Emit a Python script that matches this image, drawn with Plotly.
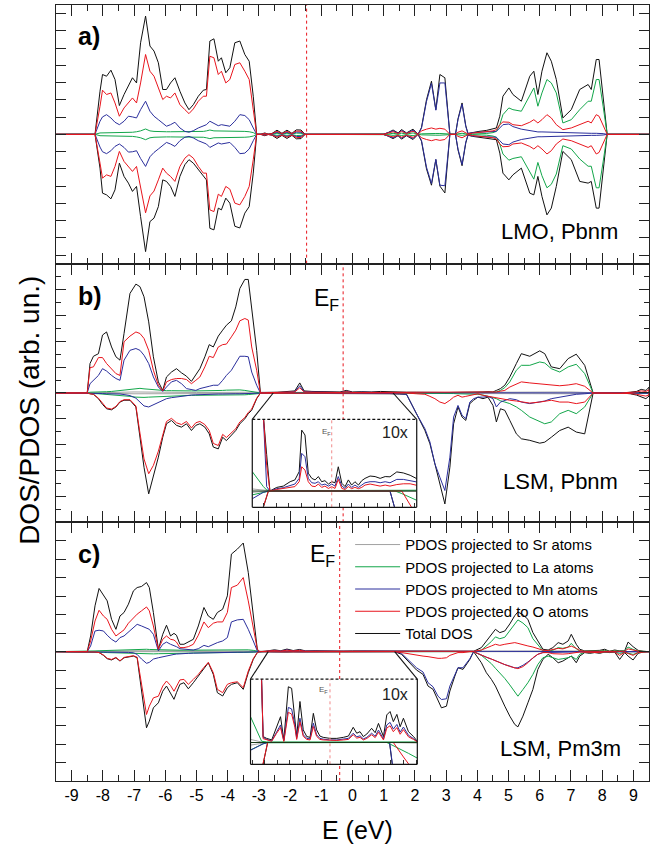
import plotly.graph_objects as go

# ------------------------------------------------------------------ data
EF_A, EF_B, EF_C = -1.47, -0.30, -0.41          # Fermi levels (eV)
X_TICKS = [-9, -8, -7, -6, -5, -4, -3, -2, -1, 0, 1, 2, 3, 4, 5, 6, 7, 8, 9]
X_TICK_LABELS = ["-9", "-8", "-7", "-6", "-5", "-4", "-3", "-2", "-1", "0",
                 "1", "2", "3", "4", "5", "6", "7", "8", "9"]
ZOOM_B = [-2.54, 1.30]     # energy window magnified in inset b
ZOOM_C = [-2.70, 1.35]     # energy window magnified in inset c

# ---------------- panel a) LMO, Pbnm
A_VB_X = [-8.25, -8.09, -8.01, -7.88, -7.74, -7.61, -7.47, -7.32, -7.18, -7.05, -6.92, -6.79, -6.63,
          -6.49, -6.36, -6.22, -6.08, -5.96, -5.83, -5.69, -5.53, -5.37, -5.24, -5.10, -4.94, -4.78,
          -4.68, -4.57, -4.44, -4.30, -4.20, -4.06, -3.93, -3.77, -3.61, -3.45, -3.31, -3.18, -3.07]
A_VB_TOT_UP = [0, 2.5, 3.47, 3.37, 3.72, 3.18, 1.67, 2.31, 2.79, 3.28, 2.98, 5.31, 6.86, 5.12, 4.83, 4.15,
               2.60, 2.60, 2.98, 3.28, 2.50, 1.82, 1.43, 1.72, 2.21, 2.56, 2.60, 5.41, 5.54, 4.24, 4.44,
               3.57, 3.86, 5.31, 5.41, 4.63, 4.24, 2.21, 0]
A_VB_O_UP = [0, 1.63, 2.56, 2.31, 2.40, 1.82, 1.05, 1.53, 1.82, 2.11, 1.82, 2.98, 4.63, 3.66, 3.37, 2.71,
             2.02, 2.21, 2.11, 2.40, 1.72, 1.43, 1.20, 1.47, 1.92, 2.21, 2.21, 4.53, 4.44, 3.47, 3.66,
             2.98, 3.18, 4.05, 4.15, 3.66, 3.18, 1.43, 0]
A_VB_MN_UP = [0, 0.76, 1.01, 1.14, 0.95, 0.70, 0.56, 0.76, 1.05, 1.01, 0.95, 1.43, 1.92, 1.34, 1.05, 0.85,
              0.66, 0.47, 0.56, 0.70, 0.37, 0.17, 0.12, 0.21, 0.37, 0.47, 0.56, 0.76, 0.62, 0.50, 0.56,
              0.50, 0.47, 0.76, 1.14, 1.09, 0.85, 0.37, 0]
A_VB_LA_UP = [0, 0.08, 0.08, 0.08, 0.08, 0.08, 0.08, 0.10, 0.10, 0.12, 0.15, 0.20, 0.31, 0.20, 0.17, 0.15,
              0.15, 0.15, 0.15, 0.15, 0.15, 0.17, 0.17, 0.17, 0.17, 0.17, 0.20, 0.25, 0.20, 0.20, 0.20,
              0.20, 0.20, 0.20, 0.20, 0.17, 0.15, 0.10, 0]
A_VB_TOT_DN = [0, -1.96, -3.41, -3.51, -3.74, -3.22, -1.67, -2.44, -2.83, -3.31, -3.02, -4.77, -6.80, -5.06,
               -4.86, -4.19, -2.64, -2.73, -3.02, -3.60, -2.44, -1.76, -1.47, -1.67, -2.05, -2.44, -2.64,
               -5.45, -5.54, -4.28, -4.38, -3.70, -3.99, -5.33, -5.43, -4.57, -4.19, -2.25, 0]
A_VB_O_DN = [0, -1.67, -2.54, -2.35, -2.44, -1.86, -0.99, -1.57, -1.86, -2.15, -1.86, -3.02, -4.55, -3.57,
             -3.29, -2.64, -1.96, -2.25, -2.44, -2.73, -1.86, -1.38, -1.18, -1.38, -1.86, -2.25, -2.25,
             -4.38, -4.48, -3.47, -3.60, -3.02, -3.18, -3.99, -4.09, -3.60, -3.02, -1.47, 0]
A_VB_MN_DN = [0, -0.74, -1.01, -1.12, -0.95, -0.70, -0.56, -0.76, -1.03, -1.01, -0.95, -1.40, -1.86, -1.30,
              -1.05, -0.85, -0.66, -0.47, -0.56, -0.70, -0.37, -0.17, -0.12, -0.21, -0.37, -0.47, -0.56,
              -0.76, -0.62, -0.50, -0.56, -0.50, -0.47, -0.76, -1.12, -1.09, -0.85, -0.37, 0]
A_VB_LA_DN = [0, -0.08, -0.08, -0.08, -0.08, -0.08, -0.08, -0.10, -0.10, -0.12, -0.15, -0.20, -0.31, -0.20,
              -0.17, -0.15, -0.15, -0.15, -0.15, -0.15, -0.15, -0.17, -0.17, -0.17, -0.17, -0.17, -0.20,
              -0.25, -0.20, -0.20, -0.20, -0.20, -0.20, -0.20, -0.20, -0.17, -0.15, -0.10, 0]

A_G1_X = [-2.95, -2.81, -2.70, -2.58, -2.42, -2.26, -2.10, -1.94, -1.80, -1.65, -1.53, -1.45]
A_G1_TOT_UP = [0, 0.08, 0.01, 0.05, 0.24, 0.06, 0.24, 0.06, 0.26, 0.25, 0.02, 0]
A_G1_O_UP = [0, 0.05, 0.01, 0.04, 0.17, 0.04, 0.17, 0.04, 0.19, 0.18, 0.01, 0]
A_G1_MN_UP = [0, 0.04, 0, 0.03, 0.12, 0.03, 0.12, 0.03, 0.13, 0.12, 0.01, 0]
A_G1_LA_UP = [0, 0.02, 0, 0.01, 0.06, 0.02, 0.06, 0.02, 0.07, 0.06, 0, 0]
A_G1_TOT_DN = [0, -0.08, -0.01, -0.05, -0.24, -0.06, -0.24, -0.06, -0.26, -0.25, -0.02, 0]
A_G1_O_DN = [0, -0.05, -0.01, -0.04, -0.17, -0.04, -0.17, -0.04, -0.19, -0.18, -0.01, 0]
A_G1_MN_DN = [0, -0.04, 0, -0.03, -0.12, -0.03, -0.12, -0.03, -0.13, -0.12, -0.01, 0]
A_G1_LA_DN = [0, -0.02, 0, -0.01, -0.06, -0.02, -0.06, -0.02, -0.07, -0.06, 0, 0]

A_G2_X = [0.98, 1.14, 1.30, 1.46, 1.57, 1.73, 1.94, 2.10]
A_G2_TOT_UP = [0, 0.10, 0.25, 0.08, 0.28, 0.08, 0.30, 0]
A_G2_O_UP = [0, 0.06, 0.15, 0.05, 0.17, 0.05, 0.18, 0]
A_G2_MN_UP = [0, 0.08, 0.20, 0.06, 0.22, 0.06, 0.24, 0]
A_G2_LA_UP = [0, 0.02, 0.06, 0.02, 0.07, 0.02, 0.08, 0]
A_G2_TOT_DN = [0, -0.10, -0.25, -0.08, -0.28, -0.08, -0.30, 0]
A_G2_O_DN = [0, -0.06, -0.15, -0.05, -0.17, -0.05, -0.18, 0]
A_G2_MN_DN = [0, -0.08, -0.20, -0.06, -0.22, -0.06, -0.24, 0]
A_G2_LA_DN = [0, -0.02, -0.06, -0.02, -0.07, -0.02, -0.08, 0]

A_MP_X = [2.10, 2.21, 2.37, 2.53, 2.67, 2.80, 2.96, 3.12]
A_MP_TOT_UP = [0, 0.4, 2.0, 3.08, 1.43, 3.47, 3.28, 0]
A_MP_MN_UP = [0, 0.35, 1.9, 2.95, 1.40, 2.98, 2.98, 0]
A_MP_O_UP = [0, 0.2, 0.3, 0.37, 0.3, 0.35, 0.3, 0]
A_MP_LA_UP = [0, 0.03, 0.05, 0.05, 0.05, 0.05, 0.04, 0]
A_MP_TOT_DN = [0, -0.4, -2.0, -2.95, -1.47, -3.0, -3.4, 0]
A_MP_MN_DN = [0, -0.35, -1.9, -2.85, -1.45, -2.95, -2.98, 0]
A_MP_O_DN = [0, -0.2, -0.3, -0.37, -0.3, -0.35, -0.3, 0]
A_MP_LA_DN = [0, -0.03, -0.05, -0.05, -0.05, -0.05, -0.04, 0]

A_CB_X = [3.30, 3.38, 3.51, 3.63, 3.70, 3.85, 4.05, 4.30, 4.50, 4.61, 4.72, 4.82, 5.01, 5.14, 5.41, 5.68,
          5.81, 5.94, 6.07, 6.23, 6.37, 6.53, 6.74, 7.01, 7.28, 7.55, 7.65, 7.81, 7.90, 8.03, 8.16]
A_CB_TOT_UP = [0, 0.9, 1.82, 0.5, 0.05, 0.12, 0.17, 0.23, 0.30, 0.37, 1.05, 2.21, 2.69, 2.31, 1.92, 3.37,
               3.66, 2.31, 3.66, 4.73, 4.24, 3.18, 0.95, 1.43, 2.60, 2.89, 2.60, 4.34, 4.34, 2.02, 0]
A_CB_LA_UP = [0, 0.03, 0.06, 0.03, 0, 0.02, 0.03, 0.05, 0.10, 0.17, 0.56, 1.14, 1.53, 1.43, 1.34, 2.21,
              2.69, 1.63, 2.40, 3.18, 2.98, 2.40, 0.66, 0.85, 1.43, 1.92, 1.92, 3.18, 3.18, 1.63, 0]
A_CB_O_UP = [0, 0.12, 0.2, 0.08, 0.02, 0.07, 0.1, 0.13, 0.2, 0.27, 0.56, 0.72, 0.70, 0.56, 0.50, 0.70,
             0.85, 0.66, 0.85, 1.14, 0.95, 0.56, 0.27, 0.37, 0.56, 0.76, 0.66, 1.14, 1.05, 0.56, 0]
A_CB_MN_UP = [0, 0.85, 1.75, 0.45, 0.04, 0.1, 0.12, 0.15, 0.17, 0.17, 0.37, 0.56, 0.60, 0.45, 0.30, 0.20,
              0.17, 0.14, 0.14, 0.13, 0.12, 0.12, 0.08, 0.08, 0.08, 0.06, 0.06, 0.06, 0.06, 0.04, 0]
A_CB_TOT_DN = [0, -0.9, -1.82, -0.5, -0.05, -0.12, -0.17, -0.23, -0.30, -0.31, -1.09, -2.25, -2.64, -2.35,
               -1.96, -3.41, -3.51, -2.44, -3.60, -4.67, -4.28, -3.02, -0.99, -1.47, -2.73, -2.83, -2.73,
               -4.28, -4.28, -1.96, 0]
A_CB_LA_DN = [0, -0.03, -0.06, -0.03, 0, -0.02, -0.03, -0.05, -0.10, -0.17, -0.56, -1.14, -1.50, -1.40,
              -1.30, -2.15, -2.60, -1.63, -2.40, -3.10, -2.90, -2.30, -0.66, -0.85, -1.43, -1.85, -1.85,
              -3.10, -3.10, -1.60, 0]
A_CB_O_DN = [0, -0.12, -0.2, -0.08, -0.02, -0.07, -0.1, -0.13, -0.2, -0.27, -0.56, -0.72, -0.70, -0.56,
             -0.50, -0.70, -0.85, -0.66, -0.85, -1.14, -0.95, -0.56, -0.27, -0.37, -0.56, -0.76, -0.66,
             -1.14, -1.05, -0.56, 0]
A_CB_MN_DN = [0, -0.85, -1.75, -0.45, -0.04, -0.1, -0.12, -0.15, -0.17, -0.17, -0.37, -0.56, -0.60, -0.45,
              -0.30, -0.20, -0.17, -0.14, -0.14, -0.13, -0.12, -0.12, -0.08, -0.08, -0.08, -0.06, -0.06,
              -0.06, -0.06, -0.04, 0]

# ---------------- panel b) LSM, Pbnm
B_VB_X = [-8.50, -8.41, -8.30, -8.14, -8.01, -7.88, -7.72, -7.58, -7.45, -7.32, -7.13, -6.94, -6.81, -6.68,
          -6.53, -6.38, -6.22, -6.08, -5.96, -5.80, -5.64, -5.48, -5.32, -5.16, -5.02, -4.89, -4.73, -4.59,
          -4.46, -4.30, -4.16, -4.04, -3.88, -3.74, -3.61, -3.45, -3.34, -3.23, -3.07, -2.95]
B_VB_TOT_UP = [0, 1.14, 1.42, 1.52, 2.24, 2.36, 1.78, 1.40, 1.27, 2.30, 3.85, 4.21, 4.11, 3.72, 2.75, 1.40,
               0.43, 0.10, 0.62, 0.81, 0.94, 0.78, 0.65, 0.45, 0.68, 0.94, 1.40, 1.87, 1.78, 2.20, 2.43,
               2.62, 2.79, 3.33, 4.04, 4.39, 4.39, 3.20, 1.65, 0]
B_VB_O_UP = [0, 0.98, 1.01, 1.37, 1.37, 1.14, 0.94, 0.75, 0.68, 1.98, 2.20, 2.36, 2.30, 2.11, 1.65, 0.88,
             0.30, 0.08, 0.43, 0.52, 0.56, 0.56, 0.52, 0.36, 0.49, 0.62, 1.01, 1.42, 1.37, 1.78, 1.87, 1.89,
             2.17, 2.43, 2.79, 2.88, 2.82, 1.78, 0.88, 0]
B_VB_MN_UP = [0, 0.36, 0.49, 0.68, 0.94, 0.85, 0.68, 0.56, 0.49, 1.27, 1.65, 1.72, 1.65, 1.46, 1.14, 0.62,
              0.23, 0.06, 0.23, 0.43, 0.49, 0.36, 0.17, 0.13, 0.10, 0.17, 0.23, 0.26, 0.30, 0.30, 0.49, 0.68,
              0.88, 1.14, 1.42, 1.42, 1.40, 0.81, 0.30, 0]
B_VB_LA_UP = [0, 0.03, 0.03, 0.04, 0.05, 0.05, 0.06, 0.08, 0.10, 0.12, 0.16, 0.18, 0.18, 0.16, 0.14, 0.12,
              0.10, 0.09, 0.09, 0.09, 0.08, 0.08, 0.08, 0.08, 0.08, 0.08, 0.08, 0.08, 0.09, 0.10, 0.10, 0.11,
              0.12, 0.12, 0.12, 0.10, 0.08, 0.06, 0.03, 0]
B_VB_TOT_DN = [0, -0.03, -0.05, -0.22, -0.44, -0.61, -0.65, -0.54, -0.35, -0.28, -0.28, -0.54, -1.71, -2.87,
               -3.90, -3.26, -2.48, -1.71, -1.19, -1.06, -1.25, -1.32, -1.19, -1.45, -1.25, -1.19, -1.32,
               -1.58, -2.09, -2.16, -1.71, -1.84, -1.65, -1.45, -1.19, -1.00, -0.80, -0.67, -0.22, 0]
B_VB_O_DN = [0, -0.03, -0.05, -0.20, -0.40, -0.58, -0.62, -0.52, -0.33, -0.26, -0.26, -0.50, -1.55, -2.55,
             -3.12, -2.80, -2.25, -1.60, -1.10, -0.98, -1.15, -1.22, -1.10, -1.35, -1.15, -1.10, -1.22, -1.45,
             -1.95, -2.03, -1.60, -1.72, -1.55, -1.38, -1.12, -0.95, -0.75, -0.62, -0.20, 0]
B_VB_MN_DN = [0, 0, 0, -0.01, -0.02, -0.03, -0.03, -0.03, -0.04, -0.06, -0.10, -0.20, -0.35, -0.50, -0.54,
              -0.45, -0.35, -0.28, -0.22, -0.18, -0.15, -0.12, -0.10, -0.08, -0.07, -0.06, -0.05, -0.05,
              -0.04, -0.04, -0.04, -0.03, -0.03, -0.03, -0.03, -0.02, -0.02, -0.02, -0.01, 0]
B_VB_LA_DN = [0, -0.02, -0.02, -0.03, -0.04, -0.05, -0.06, -0.07, -0.08, -0.10, -0.13, -0.16, -0.17, -0.17,
              -0.16, -0.15, -0.14, -0.13, -0.12, -0.11, -0.10, -0.10, -0.09, -0.09, -0.09, -0.09, -0.09,
              -0.09, -0.09, -0.09, -0.09, -0.09, -0.08, -0.08, -0.08, -0.07, -0.06, -0.05, -0.03, 0]

B_MID_X = [-2.8, -2.4, -2.0, -1.85, -1.69, -1.55, -1.3, -1.0, -0.7, -0.4, -0.2, 0.0, 0.3, 0.6, 0.9, 1.2, 1.5]
B_MID_TOT_UP = [0.02, 0.03, 0.05, 0.08, 0.39, 0.08, 0.06, 0.05, 0.06, 0.04, 0.10, 0.04, 0.05, 0.04, 0.06, 0.04, 0.03]
B_MID_O_UP = [0.01, 0.02, 0.03, 0.04, 0.20, 0.04, 0.03, 0.02, 0.03, 0.02, 0.05, 0.02, 0.02, 0.02, 0.03, 0.02, 0.02]
B_MID_MN_UP = [0.01, 0.02, 0.03, 0.05, 0.28, 0.05, 0.04, 0.03, 0.03, 0.02, 0.06, 0.02, 0.03, 0.02, 0.03, 0.02, 0.01]
B_MID_LA_UP = [0.01, 0.01, 0.01, 0.01, 0.01, 0.01, 0.01, 0.01, 0.01, 0.01, 0.01, 0.01, 0.01, 0.01, 0.01, 0.01, 0.01]
B_MID_TOT_DN = [-0.01, -0.01, -0.01, -0.01, -0.02, -0.01, -0.01, -0.01, -0.01, -0.01, -0.01, -0.01, -0.01, -0.01, -0.02, -0.03, -0.04]
B_MID_O_DN = [-0.01, -0.01, -0.01, -0.01, -0.01, -0.01, -0.01, -0.01, -0.01, -0.01, -0.01, -0.01, -0.01, -0.01, -0.01, -0.01, -0.01]
B_MID_MN_DN = [0, 0, 0, 0, -0.01, 0, 0, 0, 0, 0, 0, 0, 0, 0, -0.01, -0.02, -0.03]
B_MID_LA_DN = [0, 0, 0, 0, 0, 0, 0, 0, 0, 0, 0, 0, 0, 0, 0, 0, 0]

B_CB_X = [1.73, 2.05, 2.32, 2.48, 2.64, 2.80, 2.96, 3.12, 3.24, 3.38, 3.51, 3.63, 3.76, 3.88, 4.02, 4.18, 4.34,
          4.50, 4.61, 4.74, 4.88, 5.04, 5.25, 5.41, 5.68, 6.00, 6.16, 6.37, 6.64, 6.91, 7.17, 7.44, 7.71]
B_CB_TOT_DN = [-0.05, -0.80, -1.45, -1.96, -2.74, -3.51, -4.29, -2.87, -1.19, -0.54, -0.93, -1.06, -0.41, -0.28,
               -0.16, -0.22, -0.16, -0.48, -1.12, -0.61, -0.67, -1.06, -1.58, -1.77, -1.83, -1.94, -1.90, -1.71,
               -1.45, -1.32, -1.51, -1.58, 0]
B_CB_MN_DN = [-0.05, -0.80, -1.38, -1.89, -2.74, -3.26, -3.77, -2.48, -0.93, -0.48, -0.86, -0.99, -0.35, -0.22,
              -0.16, -0.16, -0.13, -0.22, -0.54, -0.35, -0.28, -0.22, -0.26, -0.35, -0.41, -0.35, -0.31, -0.22,
              -0.16, -0.09, -0.05, -0.03, 0]
B_CB_O_DN = [0, -0.03, -0.05, -0.13, -0.22, -0.35, -0.41, -0.28, -0.16, -0.09, -0.16, -0.13, -0.09, -0.05, -0.03,
             -0.09, -0.13, -0.16, -0.18, -0.22, -0.26, -0.28, -0.31, -0.35, -0.39, -0.35, -0.31, -0.28, -0.35,
             -0.35, -0.41, -0.35, 0]
B_CB_LA_DN = [0, 0, 0, -0.01, -0.01, -0.02, -0.02, -0.02, -0.02, -0.03, -0.03, -0.03, -0.03, -0.04, -0.05, -0.08,
              -0.12, -0.18, -0.22, -0.30, -0.35, -0.41, -0.54, -0.67, -0.93, -1.12, -1.19, -1.12, -0.80, -0.67,
              -0.80, -0.54, 0]
B_CB_TOT_UP = [0.03, 0.03, 0.02, 0.02, 0.02, 0.02, 0.02, 0.02, 0.02, 0.02, 0.02, 0.02, 0.03, 0.03, 0.03, 0.04,
               0.05, 0.04, 0.10, 0.17, 0.30, 0.62, 1.14, 1.52, 1.42, 1.63, 1.52, 1.01, 0.94, 1.33, 1.50, 1.07, 0]
B_CB_LA_UP = [0.01, 0.01, 0.01, 0.01, 0.01, 0.01, 0.01, 0.01, 0.01, 0.01, 0.01, 0.01, 0.01, 0.01, 0.01, 0.01,
              0.01, 0.02, 0.04, 0.10, 0.21, 0.43, 0.88, 1.07, 1.07, 1.20, 1.16, 0.94, 0.81, 1.01, 1.11, 0.75, 0]
B_CB_O_UP = [0.02, 0.02, 0.02, 0.02, 0.02, 0.02, 0.02, 0.02, 0.02, 0.02, 0.02, 0.02, 0.02, 0.02, 0.02, 0.02,
             0.02, 0.03, 0.04, 0.07, 0.10, 0.23, 0.36, 0.43, 0.39, 0.36, 0.34, 0.30, 0.28, 0.31, 0.36, 0.26, 0]
B_CB_MN_UP = [0.01, 0.01, 0.01, 0.01, 0.01, 0.01, 0.01, 0.01, 0.01, 0.01, 0.01, 0.01, 0.01, 0.01, 0.01, 0.01,
              0.01, 0.01, 0.01, 0.01, 0.01, 0.01, 0.01, 0.01, 0.01, 0.01, 0.01, 0.01, 0.01, 0.01, 0.01, 0.01, 0]

B_TL_X = [8.6, 8.9, 9.1, 9.25, 9.4, 9.5]
B_TL_TOT_UP = [0, 0.03, 0.06, 0.14, 0.10, 0.22]
B_TL_O_UP = [0, 0.02, 0.04, 0.08, 0.06, 0.12]
B_TL_TOT_DN = [0, -0.03, -0.08, -0.15, -0.22, -0.12]
B_TL_O_DN = [0, -0.02, -0.05, -0.09, -0.12, -0.07]

B_SR_X = [-8.5, -7.0, -5.0, -3.0, -1.0, 1.0, 3.0, 5.0, 7.0, 8.0]
B_SR_UP = [0, 0.04, 0.02, 0.03, 0.01, 0.01, 0.02, 0.04, 0.04, 0]
B_SR_DN = [0, -0.03, -0.02, -0.02, -0.01, -0.01, -0.02, -0.03, -0.03, 0]

# inset b (10x)
INB_X = [-3.45, -3.01, -2.88, -2.75, -2.48, -2.22, -1.95, -1.76, -1.59, -1.49, -1.36, -1.23, -1.09, -0.96,
         -0.83, -0.70, -0.57, -0.43, -0.30, -0.17, -0.04, 0.10, 0.23, 0.36, 0.49, 0.62, 0.76, 0.89, 1.02,
         1.22, 1.42, 1.62, 1.82, 2.01, 2.28, 2.54, 2.81, 3.07]
INB_TOT_UP = [12, 2.9, 1.41, 0, 0.14, 0.19, 0.36, 0.43, 0.75, 2.36, 2.17, 0.69, 0.49, 0.43, 0.56, 0.36, 0.40,
              0.27, 0.36, 0.32, 0.94, 0.30, 0.17, 0.43, 0.23, 0.36, 0.23, 0.40, 0.49, 0.58, 0.56, 0.49, 0.56,
              0.55, 0.74, 0.70, 0.61, 0.48]
INB_MN_UP = [12, 2.8, 0.17, 0, 0.09, 0.13, 0.23, 0.27, 0.49, 1.46, 1.33, 0.49, 0.32, 0.30, 0.36, 0.23, 0.27,
             0.19, 0.27, 0.19, 0.56, 0.19, 0.10, 0.27, 0.14, 0.23, 0.14, 0.23, 0.32, 0.36, 0.36, 0.32, 0.36,
             0.32, 0.45, 0.45, 0.40, 0.35]
INB_O_UP = [12, 2.9, 1.0, 0, 0.06, 0.09, 0.14, 0.17, 0.36, 0.94, 0.81, 0.36, 0.19, 0.17, 0.27, 0.14, 0.19,
            0.10, 0.17, 0.10, 0.45, 0.10, 0.06, 0.17, 0.09, 0.14, 0.09, 0.14, 0.23, 0.27, 0.23, 0.19, 0.23,
            0.19, 0.25, 0.28, 0.28, 0.22]
INB_SM_X = [-3.45, -3.20, -3.01, -2.88, -2.75, 0.0, 3.07]
INB_LA_UP = [0.75, 0.40, 0.17, 0.04, 0.02, 0.02, 0.03]
INB_SR_UP = [0.08, 0.05, 0.03, 0.01, 0.01, 0.01, 0.01]
INB_DN_X = [-3.45, -3.01, -2.81, 2.01, 2.21, 2.48, 2.87, 3.07]
INB_TOT_DN = [-5.0, -0.63, 0, 0, -0.70, -1.60, -3.5, -4.0]
INB_MN_DN = [-0.3, -0.05, 0, 0, -0.70, -1.50, -3.3, -3.8]
INB_O_DN = [-4.5, -0.60, 0, 0, 0, 0, -0.64, -1.0]
INB_LA_DN = [-0.15, -0.06, -0.01, 0, 0, -0.10, -0.27, -0.36]
INB_SR_DN = [-0.05, -0.02, 0, 0, 0, 0, -0.01, -0.01]

# ---------------- panel c) LSM, Pm3m
C_VB_X = [-8.50, -8.39, -8.25, -8.12, -7.98, -7.86, -7.72, -7.58, -7.45, -7.32, -7.18, -7.02, -6.90, -6.76,
          -6.60, -6.51, -6.38, -6.22, -6.08, -5.96, -5.83, -5.72, -5.64, -5.53, -5.40, -5.26, -5.10, -4.94,
          -4.76, -4.62, -4.46, -4.33, -4.16, -4.01, -3.88, -3.69, -3.50, -3.34, -3.18, -3.05, -2.97]
C_VB_TOT_UP = [0, 0.85, 2.48, 3.42, 3.02, 2.75, 1.75, 1.21, 1.93, 2.12, 2.57, 3.29, 3.47, 3.53, 3.74, 3.47,
               2.12, 0.13, 0.94, 1.43, 0.85, 0.99, 0.89, 0.40, 0.40, 0.52, 0.67, 1.39, 2.39, 1.93, 1.75, 2.12,
               2.30, 3.02, 5.28, 5.55, 5.88, 4.29, 1.93, 0.13, 0]
C_VB_O_UP = [0, 0.58, 1.66, 2.24, 1.93, 1.75, 1.21, 0.85, 1.03, 1.18, 1.54, 1.85, 2.03, 2.21, 2.42, 2.21, 1.39,
             0.13, 0.67, 0.85, 0.67, 0.63, 0.52, 0.22, 0.22, 0.27, 0.40, 0.89, 1.61, 1.30, 1.54, 1.61, 1.61,
             2.12, 3.47, 3.60, 4.01, 2.75, 1.21, 0.13, 0]
C_VB_MN_UP = [0, 0.31, 1.12, 1.16, 1.12, 0.89, 0.67, 0.52, 0.76, 0.85, 1.07, 1.30, 1.48, 1.39, 1.30, 1.21, 0.94,
              0.04, 0.40, 0.52, 0.40, 0.34, 0.27, 0.16, 0.13, 0.09, 0.09, 0.16, 0.34, 0.27, 0.40, 0.49, 0.58,
              0.76, 1.61, 1.72, 1.75, 1.21, 0.58, 0.04, 0]
C_VB_LA_UP = [0, 0.02, 0.04, 0.05, 0.06, 0.06, 0.07, 0.08, 0.08, 0.08, 0.09, 0.10, 0.11, 0.12, 0.13, 0.12, 0.11,
              0.10, 0.10, 0.10, 0.10, 0.10, 0.09, 0.08, 0.08, 0.08, 0.08, 0.09, 0.10, 0.10, 0.10, 0.10, 0.10,
              0.10, 0.12, 0.12, 0.12, 0.10, 0.07, 0.03, 0]
C_VB_TOT_DN = [0, -0.02, -0.02, -0.05, -0.20, -0.38, -0.45, -0.33, -0.51, -0.33, -0.27, -0.24, -0.33, -2.22,
               -4.12, -3.76, -3.04, -2.77, -2.14, -1.86, -2.22, -2.58, -2.22, -1.77, -1.68, -2.01, -1.68, -1.32,
               -0.87, -0.60, -1.23, -2.22, -2.40, -1.95, -1.77, -1.68, -2.04, -1.14, -0.42, -0.05, 0]
C_VB_O_DN = [0, -0.02, -0.02, -0.05, -0.18, -0.36, -0.42, -0.31, -0.49, -0.31, -0.25, -0.22, -0.30, -1.86, -3.40,
             -2.95, -2.50, -2.41, -1.86, -1.59, -1.83, -2.14, -1.86, -1.53, -1.50, -1.77, -1.50, -1.23, -0.85,
             -0.58, -1.14, -2.04, -2.22, -1.77, -1.68, -1.63, -1.95, -1.05, -0.38, -0.05, 0]
C_VB_MN_DN = [0, 0, 0, 0, -0.01, -0.01, -0.02, -0.02, -0.02, -0.03, -0.04, -0.06, -0.15, -0.40, -0.63, -0.58,
              -0.40, -0.33, -0.27, -0.22, -0.18, -0.15, -0.13, -0.11, -0.10, -0.09, -0.08, -0.07, -0.06, -0.05,
              -0.05, -0.04, -0.04, -0.04, -0.04, -0.03, -0.03, -0.02, -0.01, 0, 0]
C_VB_LA_DN = [0, -0.01, -0.02, -0.03, -0.04, -0.05, -0.06, -0.07, -0.08, -0.09, -0.10, -0.11, -0.12, -0.13,
              -0.14, -0.13, -0.12, -0.11, -0.10, -0.10, -0.09, -0.09, -0.09, -0.08, -0.08, -0.08, -0.07, -0.07,
              -0.07, -0.07, -0.07, -0.06, -0.06, -0.06, -0.06, -0.05, -0.05, -0.04, -0.03, -0.01, 0]

C_MID_X = [-2.8, -2.5, -2.3, -2.1, -1.9, -1.7, -1.5, -1.2, -0.9, -0.6, -0.3, 0.0, 0.4, 0.8, 1.1]
C_MID_TOT_UP = [0.02, 0.10, 0.05, 0.14, 0.06, 0.12, 0.04, 0.05, 0.03, 0.03, 0.03, 0.04, 0.04, 0.05, 0.06]
C_MID_O_UP = [0.01, 0.06, 0.03, 0.08, 0.04, 0.07, 0.02, 0.03, 0.02, 0.02, 0.02, 0.02, 0.02, 0.03, 0.03]
C_MID_MN_UP = [0.01, 0.07, 0.03, 0.10, 0.04, 0.08, 0.03, 0.03, 0.02, 0.02, 0.02, 0.02, 0.03, 0.03, 0.04]
C_MID_LA_UP = [0.01, 0.01, 0.01, 0.01, 0.01, 0.01, 0.01, 0.01, 0.01, 0.01, 0.01, 0.01, 0.01, 0.01, 0.01]
C_MID_TOT_DN = [-0.01, -0.02, -0.01, -0.02, -0.01, -0.02, -0.01, -0.01, -0.01, -0.01, -0.01, -0.01, -0.01, -0.01, -0.01]
C_MID_O_DN = [-0.01, -0.01, -0.01, -0.01, -0.01, -0.01, -0.01, -0.01, -0.01, -0.01, -0.01, -0.01, -0.01, -0.01, -0.01]
C_MID_MN_DN = [0, -0.01, 0, -0.01, 0, -0.01, 0, 0, 0, 0, 0, 0, 0, 0, 0]
C_MID_LA_DN = [0, 0, 0, 0, 0, 0, 0, 0, 0, 0, 0, 0, 0, 0, 0]

C_CB_X = [1.35, 1.57, 1.84, 2.05, 2.26, 2.42, 2.58, 2.74, 2.85, 3.01, 3.12, 3.28, 3.38, 3.54, 3.65, 3.76, 3.88,
          4.13, 4.29, 4.45, 4.58, 4.72, 4.88, 5.04, 5.20, 5.30, 5.46, 5.62, 5.78, 5.94, 6.10, 6.27, 6.42, 6.59,
          6.74, 6.91, 7.01, 7.17, 7.28, 7.44, 7.60, 7.76, 7.92, 8.08, 8.24, 8.40, 8.56, 8.72, 8.83, 8.99, 9.15,
          9.31, 9.47]
C_CB_TOT_UP = [0.02, 0.02, 0.02, 0.02, 0.02, 0.02, 0.02, 0.02, 0.02, 0.02, 0.02, 0.02, 0.02, 0.02, 0.02, 0.02, 0.02,
               0.22, 0.58, 0.94, 1.21, 1.03, 1.12, 1.50, 1.95, 2.15, 2.00, 1.75, 1.03, 0.58, 0.13, 0.09, 0.22,
               0.49, 0.40, 0.58, 0.94, 0.40, 0.13, 0.04, 0.04, 0.04, 0.07, 0.13, 0.02, 0.09, 0.04, 0.04, 0.52,
               0.27, 0.07, 0.02, 0]
C_CB_LA_UP = [0.01, 0.01, 0.01, 0.01, 0.01, 0.01, 0.01, 0.01, 0.01, 0.01, 0.01, 0.01, 0.01, 0.01, 0.01, 0.01, 0.01,
              0.08, 0.30, 0.55, 0.80, 0.70, 0.78, 1.15, 1.50, 1.72, 1.55, 1.30, 0.70, 0.35, 0.05, 0.03, 0.08,
              0.22, 0.18, 0.25, 0.45, 0.15, 0.04, 0.03, 0.02, 0.03, 0.04, 0.07, 0.02, 0.05, 0.02, 0.03, 0.25,
              0.12, 0.04, 0.01, 0]
C_CB_O_UP = [0.02, 0.02, 0.02, 0.02, 0.02, 0.02, 0.02, 0.02, 0.02, 0.02, 0.02, 0.02, 0.02, 0.02, 0.02, 0.02, 0.02,
             0.09, 0.22, 0.31, 0.40, 0.34, 0.40, 0.45, 0.49, 0.45, 0.40, 0.31, 0.25, 0.16, 0.08, 0.06, 0.10,
             0.18, 0.15, 0.22, 0.30, 0.18, 0.06, 0.02, 0.02, 0.02, 0.03, 0.05, 0.01, 0.03, 0.02, 0.02, 0.15,
             0.08, 0.03, 0.01, 0]
C_CB_MN_UP = [0.01, 0.01, 0.01, 0.01, 0.01, 0.01, 0.01, 0.01, 0.01, 0.01, 0.01, 0.01, 0.01, 0.01, 0.01, 0.01, 0.01,
              0.02, 0.02, 0.02, 0.02, 0.02, 0.02, 0.02, 0.02, 0.02, 0.02, 0.02, 0.01, 0.01, 0.01, 0.01, 0.01,
              0.01, 0.01, 0.01, 0.01, 0.01, 0.01, 0.01, 0.01, 0.01, 0.01, 0.01, 0.01, 0.01, 0.01, 0.01, 0.01,
              0.01, 0.01, 0.01, 0]
C_CB_TOT_DN = [0, -0.14, -0.60, -0.99, -1.23, -1.86, -2.04, -2.59, -3.04, -2.95, -2.13, -1.32, -0.87, -0.96, -0.69,
               -0.42, 0, -0.60, -1.14, -1.50, -1.86, -2.41, -2.95, -3.49, -3.94, -4.07, -3.49, -2.77, -2.04,
               -0.96, -0.42, -0.14, -0.33, -0.60, -0.51, -0.33, -0.24, -0.60, -0.24, -0.05, -0.09, -0.05, -0.09,
               -0.02, -0.05, -0.02, -0.42, -0.05, -0.24, -0.45, -0.09, -0.02, 0]
C_CB_MN_DN = [0, -0.09, -0.51, -0.87, -1.10, -1.68, -1.90, -2.41, -2.59, -2.55, -1.86, -1.23, -0.87, -0.87, -0.60,
              -0.38, 0, -0.20, -0.30, -0.40, -0.50, -0.62, -0.70, -0.78, -0.88, -0.87, -0.74, -0.56, -0.33, -0.14,
              -0.05, -0.04, -0.04, -0.04, -0.04, -0.02, -0.02, -0.02, -0.01, -0.01, -0.01, -0.01, -0.01, -0.01,
              -0.01, -0.01, -0.01, -0.01, -0.01, -0.01, -0.01, -0.01, 0]
C_CB_O_DN = [0, -0.05, -0.14, -0.20, -0.24, -0.27, -0.33, -0.36, -0.36, -0.33, -0.20, -0.09, -0.05, -0.05, -0.02,
             0, 0, -0.20, -0.30, -0.40, -0.50, -0.60, -0.70, -0.80, -0.90, -0.92, -0.81, -0.60, -0.33, -0.14,
             -0.05, -0.05, -0.11, -0.14, -0.13, -0.11, -0.09, -0.05, -0.02, -0.03, -0.05, -0.03, -0.05, -0.02,
             -0.03, -0.02, -0.20, -0.03, -0.10, -0.20, -0.05, -0.02, 0]
C_CB_LA_DN = [-0.01, -0.01, -0.01, -0.01, -0.01, -0.01, -0.01, -0.01, -0.01, -0.01, -0.01, -0.01, -0.01, -0.01,
              -0.01, -0.01, 0, -0.20, -0.40, -0.65, -0.90, -1.15, -1.45, -1.80, -2.20, -2.41, -2.05, -1.68, -1.23,
              -0.69, -0.33, -0.24, -0.33, -0.42, -0.38, -0.33, -0.24, -0.42, -0.14, -0.04, -0.05, -0.04, -0.05,
              -0.02, -0.04, -0.02, -0.10, -0.03, -0.08, -0.15, -0.05, -0.02, 0]

C_SR_X = [-8.5, -7.0, -5.0, -3.0, -1.0, 1.0, 3.0, 5.0, 7.0, 8.5]
C_SR_UP = [0, 0.05, 0.03, 0.03, 0.01, 0.01, 0.02, 0.05, 0.04, 0]
C_SR_DN = [0, -0.04, -0.03, -0.02, -0.01, -0.01, -0.02, -0.04, -0.03, 0]

# inset c (10x)
INC_X = [-3.56, -3.12, -3.06, -2.92, -2.72, -2.53, -2.37, -2.24, -2.06, -1.93, -1.80, -1.73, -1.60, -1.47, -1.33,
         -1.20, -1.07, -0.94, -0.81, -0.68, -0.41, -0.14, 0.12, 0.32, 0.51, 0.65, 0.78, 0.91, 1.05, 1.24, 1.38,
         1.51, 1.71, 1.84, 1.97, 2.10, 2.24, 2.37, 2.50, 2.70, 2.90, 3.06]
INC_TOT_UP = [12, 2.42, 0.23, 0.16, 0.10, 0.61, 1.00, 0.10, 2.16, 2.10, 1.00, 0.23, 1.59, 0.49, 0.23, 0.20, 1.13,
              0.49, 0.25, 0.20, 0.16, 0.16, 0.20, 0.25, 0.59, 0.36, 0.42, 0.23, 0.33, 0.55, 0.38, 0.74, 0.23,
              1.07, 1.20, 0.81, 1.09, 0.61, 0.94, 0.42, 0.23, 0.03]
INC_MN_UP = [12, 2.40, 0.20, 0.12, 0.06, 0.42, 0.68, 0.06, 1.36, 1.30, 0.68, 0.16, 0.94, 0.30, 0.16, 0.14, 0.75,
             0.30, 0.16, 0.13, 0.10, 0.10, 0.12, 0.16, 0.36, 0.22, 0.26, 0.14, 0.20, 0.36, 0.24, 0.48, 0.14,
             0.68, 0.78, 0.52, 0.70, 0.40, 0.60, 0.28, 0.15, 0.02]
INC_O_UP = [12, 2.40, 0.15, 0.10, 0.05, 0.35, 0.58, 0.04, 1.17, 1.10, 0.58, 0.12, 0.80, 0.24, 0.12, 0.10, 0.62,
            0.24, 0.12, 0.10, 0.08, 0.08, 0.10, 0.12, 0.30, 0.17, 0.20, 0.10, 0.16, 0.30, 0.19, 0.40, 0.10,
            0.56, 0.65, 0.42, 0.58, 0.32, 0.50, 0.22, 0.12, 0.02]
INC_SM_X = [-3.56, -3.30, -3.12, -2.92, 0.0, 3.06]
INC_LA_UP = [1.0, 0.45, 0.05, 0.02, 0.02, 0.02]
INC_SR_UP = [0.12, 0.05, 0.02, 0.01, 0.01, 0.01]
INC_DN_X = [-3.56, -3.06, -2.88, 1.84, 1.95, 2.10, 2.50, 2.70, 3.06]
INC_TOT_DN = [-5.0, -0.84, 0, 0, 0, -1.2, -3.0, -3.5, -3.5]
INC_MN_DN = [-0.3, -0.05, 0, 0, 0, -1.1, -2.8, -3.3, -3.3]
INC_O_DN = [-4.5, -0.80, 0, 0, 0, 0, -0.56, -0.84, -1.3]
INC_LA_DN = [-0.29, -0.05, -0.01, 0, -0.05, -0.12, -0.32, -0.42, -0.61]
INC_SR_DN = [-0.1, -0.02, 0, 0, 0, 0, -0.01, -0.02, -0.02]

# ------------------------------------------------------------------ tables built from the arrays
A_REG = [
    dict(X=A_VB_X, TOT_UP=A_VB_TOT_UP, O_UP=A_VB_O_UP, MN_UP=A_VB_MN_UP, LA_UP=A_VB_LA_UP,
         TOT_DN=A_VB_TOT_DN, O_DN=A_VB_O_DN, MN_DN=A_VB_MN_DN, LA_DN=A_VB_LA_DN),
    dict(X=A_G1_X, TOT_UP=A_G1_TOT_UP, O_UP=A_G1_O_UP, MN_UP=A_G1_MN_UP, LA_UP=A_G1_LA_UP,
         TOT_DN=A_G1_TOT_DN, O_DN=A_G1_O_DN, MN_DN=A_G1_MN_DN, LA_DN=A_G1_LA_DN),
    dict(X=A_G2_X, TOT_UP=A_G2_TOT_UP, O_UP=A_G2_O_UP, MN_UP=A_G2_MN_UP, LA_UP=A_G2_LA_UP,
         TOT_DN=A_G2_TOT_DN, O_DN=A_G2_O_DN, MN_DN=A_G2_MN_DN, LA_DN=A_G2_LA_DN),
    dict(X=A_MP_X, TOT_UP=A_MP_TOT_UP, O_UP=A_MP_O_UP, MN_UP=A_MP_MN_UP, LA_UP=A_MP_LA_UP,
         TOT_DN=A_MP_TOT_DN, O_DN=A_MP_O_DN, MN_DN=A_MP_MN_DN, LA_DN=A_MP_LA_DN),
    dict(X=A_CB_X, TOT_UP=A_CB_TOT_UP, O_UP=A_CB_O_UP, MN_UP=A_CB_MN_UP, LA_UP=A_CB_LA_UP,
         TOT_DN=A_CB_TOT_DN, O_DN=A_CB_O_DN, MN_DN=A_CB_MN_DN, LA_DN=A_CB_LA_DN),
]
B_REG = [
    dict(X=B_VB_X, TOT_UP=B_VB_TOT_UP, O_UP=B_VB_O_UP, MN_UP=B_VB_MN_UP, LA_UP=B_VB_LA_UP,
         TOT_DN=B_VB_TOT_DN, O_DN=B_VB_O_DN, MN_DN=B_VB_MN_DN, LA_DN=B_VB_LA_DN),
    dict(X=B_MID_X, TOT_UP=B_MID_TOT_UP, O_UP=B_MID_O_UP, MN_UP=B_MID_MN_UP, LA_UP=B_MID_LA_UP,
         TOT_DN=B_MID_TOT_DN, O_DN=B_MID_O_DN, MN_DN=B_MID_MN_DN, LA_DN=B_MID_LA_DN),
    dict(X=B_CB_X, TOT_UP=B_CB_TOT_UP, O_UP=B_CB_O_UP, MN_UP=B_CB_MN_UP, LA_UP=B_CB_LA_UP,
         TOT_DN=B_CB_TOT_DN, O_DN=B_CB_O_DN, MN_DN=B_CB_MN_DN, LA_DN=B_CB_LA_DN),
    dict(X=B_TL_X, TOT_UP=B_TL_TOT_UP, O_UP=B_TL_O_UP, TOT_DN=B_TL_TOT_DN, O_DN=B_TL_O_DN),
    dict(X=B_SR_X, SR_UP=B_SR_UP, SR_DN=B_SR_DN),
]
C_REG = [
    dict(X=C_VB_X, TOT_UP=C_VB_TOT_UP, O_UP=C_VB_O_UP, MN_UP=C_VB_MN_UP, LA_UP=C_VB_LA_UP,
         TOT_DN=C_VB_TOT_DN, O_DN=C_VB_O_DN, MN_DN=C_VB_MN_DN, LA_DN=C_VB_LA_DN),
    dict(X=C_MID_X, TOT_UP=C_MID_TOT_UP, O_UP=C_MID_O_UP, MN_UP=C_MID_MN_UP, LA_UP=C_MID_LA_UP,
         TOT_DN=C_MID_TOT_DN, O_DN=C_MID_O_DN, MN_DN=C_MID_MN_DN, LA_DN=C_MID_LA_DN),
    dict(X=C_CB_X, TOT_UP=C_CB_TOT_UP, O_UP=C_CB_O_UP, MN_UP=C_CB_MN_UP, LA_UP=C_CB_LA_UP,
         TOT_DN=C_CB_TOT_DN, O_DN=C_CB_O_DN, MN_DN=C_CB_MN_DN, LA_DN=C_CB_LA_DN),
    dict(X=C_SR_X, SR_UP=C_SR_UP, SR_DN=C_SR_DN),
]
INB_REG = [
    dict(X=INB_X, TOT_UP=INB_TOT_UP, O_UP=INB_O_UP, MN_UP=INB_MN_UP),
    dict(X=INB_SM_X, LA_UP=INB_LA_UP, SR_UP=INB_SR_UP),
    dict(X=INB_DN_X, TOT_DN=INB_TOT_DN, O_DN=INB_O_DN, MN_DN=INB_MN_DN, LA_DN=INB_LA_DN, SR_DN=INB_SR_DN),
]
INC_REG = [
    dict(X=INC_X, TOT_UP=INC_TOT_UP, O_UP=INC_O_UP, MN_UP=INC_MN_UP),
    dict(X=INC_SM_X, LA_UP=INC_LA_UP, SR_UP=INC_SR_UP),
    dict(X=INC_DN_X, TOT_DN=INC_TOT_DN, O_DN=INC_O_DN, MN_DN=INC_MN_DN, LA_DN=INC_LA_DN, SR_DN=INC_SR_DN),
]

# ------------------------------------------------------------------ styling
FONT = "Liberation Sans, Arial, Helvetica, sans-serif"
COLORS = dict(TOT="#111111", SR="#8a8a8a", LA="#13a64a", MN="#2b2f9c", O="#e8151d")
NAMES = dict(SR="PDOS projected to Sr atoms", LA="PDOS projected to La atoms",
             MN="PDOS projected to Mn atoms", O="PDOS projected to O atoms", TOT="Total DOS")
RANK = dict(SR=1, LA=2, MN=3, O=4, TOT=5)
ORDER = ["TOT", "SR", "LA", "MN", "O"]
XR = [-9.5, 9.5]

fig = go.Figure()


def add_panel(regs, xa, ya, pad, legend=False):
    for sp in ORDER:
        for spin in ("UP", "DN"):
            key = sp + "_" + spin
            xs, ys = [], []
            if pad:
                xs.append(XR[0]); ys.append(0.0)
            found = False
            for r in regs:
                if key in r:
                    assert len(r["X"]) == len(r[key]), (xa, key, len(r["X"]), len(r[key]))
                    xs += list(r["X"]); ys += list(r[key]); found = True
            if not found:
                continue
            if pad:
                xs.append(XR[1]); ys.append(0.0)
            show = legend and spin == "UP"
            fig.add_trace(go.Scatter(
                x=xs, y=ys, mode="lines", xaxis=xa, yaxis=ya,
                line=dict(color=COLORS[sp], width=1.0 if sp != "SR" else 0.8),
                name=NAMES[sp], showlegend=show, legendrank=RANK[sp], hoverinfo="skip"))


add_panel(A_REG, "x", "y", True)
add_panel(B_REG, "x2", "y2", True)
add_panel(C_REG, "x3", "y3", True, legend=True)

YR = {"y": 7.5, "y2": 5.0, "y3": 7.0}
# Fermi-level lines in the main panels
for ef, xa, ya in ((EF_A, "x", "y"), (EF_B, "x2", "y2"), (EF_C, "x3", "y3")):
    fig.add_trace(go.Scatter(x=[ef, ef], y=[-YR[ya], YR[ya]], mode="lines", xaxis=xa, yaxis=ya,
                             line=dict(color="#e8151d", width=1, dash="dot"), showlegend=False,
                             hoverinfo="skip"))

add_panel(INB_REG, "x4", "y4", None)
add_panel(INC_REG, "x5", "y5", None)

INB_YR = [-0.632, 2.78]
INC_YR = [-0.845, 2.46]
for ef, xa, ya, yr in ((EF_B, "x4", "y4", INB_YR), (EF_C, "x5", "y5", INC_YR)):
    fig.add_trace(go.Scatter(x=[ef, ef], y=yr, mode="lines", xaxis=xa, yaxis=ya,
                             line=dict(color="#f08a8a", width=1, dash="dot"), showlegend=False,
                             hoverinfo="skip"))

# ------------------------------------------------------------------ axes
AX = dict(showgrid=False, zeroline=False, showline=True, linecolor="#222", linewidth=1.2,
          mirror="ticks", ticks="inside", tickcolor="#222", tickwidth=1)
xcommon = dict(AX, range=XR, tickmode="array", tickvals=X_TICKS, ticktext=X_TICK_LABELS, ticklen=11,
               minor=dict(ticks="inside", tickmode="linear", tick0=-9.5, dtick=0.5, ticklen=6,
                          tickcolor="#222", tickwidth=1),
               showticklabels=False)
ycommon = dict(AX, tick0=0, dtick=1, ticklen=10, showticklabels=False)

fig.update_layout(
    width=659, height=852,
    margin=dict(l=56, r=10, t=5, b=71),
    plot_bgcolor="white", paper_bgcolor="white",
    font=dict(family=FONT, color="black"),
    xaxis=dict(xcommon, anchor="y", domain=[0, 1]),
    xaxis2=dict(xcommon, anchor="y2", domain=[0, 1]),
    xaxis3=dict(xcommon, anchor="y3", domain=[0, 1], showticklabels=True,
                tickfont=dict(size=16, family=FONT)),
    yaxis=dict(ycommon, anchor="x", domain=[2 / 3, 1], range=[-7.5, 7.5]),
    yaxis2=dict(ycommon, anchor="x2", domain=[1 / 3, 2 / 3], range=[-5, 5],
                minor=dict(ticks="inside", dtick=0.5, ticklen=5, tickcolor="#222", tickwidth=1)),
    yaxis3=dict(ycommon, anchor="x3", domain=[0, 1 / 3], range=[-7, 7]),
    xaxis4=dict(anchor="y4", domain=[0.3310, 0.6083], range=[-3.45, 3.07], showgrid=False, zeroline=False,
                showline=False, ticks="inside", ticklen=4, tickcolor="#333", dtick=0.5, tick0=0,
                showticklabels=False),
    yaxis4=dict(anchor="x4", domain=[0.3527, 0.4661], range=INB_YR, showgrid=False, zeroline=False,
                showline=False, ticks="", showticklabels=False),
    xaxis5=dict(anchor="y5", domain=[0.3280, 0.6093], range=[-3.56, 3.05], showgrid=False, zeroline=False,
                showline=False, ticks="inside", ticklen=4, tickcolor="#333", dtick=0.5, tick0=0,
                showticklabels=False),
    yaxis5=dict(anchor="x5", domain=[0.0215, 0.1314], range=INC_YR, showgrid=False, zeroline=False,
                showline=False, ticks="", showticklabels=False),
    legend=dict(x=0.496, y=0.3255, xanchor="left", yanchor="top", bgcolor="rgba(0,0,0,0)",
                font=dict(size=14.8, family=FONT), itemwidth=45, tracegroupgap=0),
)

# inset frames, zero lines and connector lines
shapes = []
for xd, yd in (("x4 domain", "y4 domain"), ("x5 domain", "y5 domain")):
    for (x0, y0, x1, y1, dash) in ((0, 0, 1, 0, "solid"), (0, 0, 0, 1, "solid"), (1, 0, 1, 1, "solid"),
                                   (0, 1, 1, 1, "3px,2px")):
        shapes.append(dict(type="line", xref=xd, yref=yd, x0=x0, y0=y0, x1=x1, y1=y1,
                           line=dict(color="#111", width=1.2, dash=dash), layer="above"))
for xa, ya in (("x4", "y4"), ("x5", "y5")):
    shapes.append(dict(type="line", xref=xa + " domain", yref=ya, x0=0, x1=1, y0=0, y1=0,
                       line=dict(color="#1a3a1a", width=1.2), layer="above"))


def px_x(v):  # main-axis energy -> paper x
    return (v - XR[0]) / (XR[1] - XR[0])


# connector lines from the zoom window on the zero axis to the inset corners
for win, dom_x, dom_y, y_zero in ((ZOOM_B, [0.3310, 0.6083], 0.4661, 0.5),
                                  (ZOOM_C, [0.3280, 0.6093], 0.1314, 1 / 6)):
    for i in range(2):
        shapes.append(dict(type="line", xref="paper", yref="paper", x0=px_x(win[i]), y0=y_zero,
                           x1=dom_x[i], y1=dom_y, line=dict(color="#111", width=1.1), layer="above"))
fig.update_layout(shapes=shapes)

ann = [
    dict(text="<b>a)</b>", x=0.0337, y=0.9595, font=dict(size=25), xanchor="left"),
    dict(text="<b>b)</b>", x=0.0337, y=0.6255, font=dict(size=25), xanchor="left"),
    dict(text="<b>c)</b>", x=0.0337, y=0.2925, font=dict(size=25), xanchor="left"),
    dict(text="LMO, Pbnm", x=0.951, y=0.7075, font=dict(size=22), xanchor="right"),
    dict(text="LSM, Pbnm", x=0.951, y=0.3857, font=dict(size=22), xanchor="right"),
    dict(text="LSM, Pm3m", x=0.9557, y=0.0415, font=dict(size=22), xanchor="right"),
    dict(text="E<sub>F</sub>", x=0.4317, y=0.620, font=dict(size=23), xanchor="left"),
    dict(text="E<sub>F</sub>", x=0.425, y=0.290, font=dict(size=23), xanchor="left"),
    dict(text="10x", x=0.597, y=0.449, font=dict(size=16, color="#222"), xanchor="right"),
    dict(text="10x", x=0.597, y=0.1121, font=dict(size=16, color="#222"), xanchor="right"),
    dict(text="E<sub>F</sub>", x=(326 - 56) / 593, y=(781 - 432) / 776, font=dict(size=8, color="#555"),
         xanchor="center"),
    dict(text="E<sub>F</sub>", x=(323 - 56) / 593, y=(781 - 690) / 776, font=dict(size=8, color="#555"),
         xanchor="center"),
    dict(text="DOS/PDOS (arb. un.)", x=-0.0438, y=0.477, textangle=-90, font=dict(size=28),
         xanchor="center"),
    dict(text="E (eV)", x=0.5076, y=-0.063, font=dict(size=25), xanchor="center"),
]
for a in ann:
    a.setdefault("yanchor", "middle")
    a.update(xref="paper", yref="paper", showarrow=False)
    a["font"] = dict(a["font"], family=FONT)
fig.update_layout(annotations=ann)

fig.write_html("out.html", config={"displayModeBar": False},
               post_script="document.body.style.margin='0px';document.body.style.overflow='hidden';")
